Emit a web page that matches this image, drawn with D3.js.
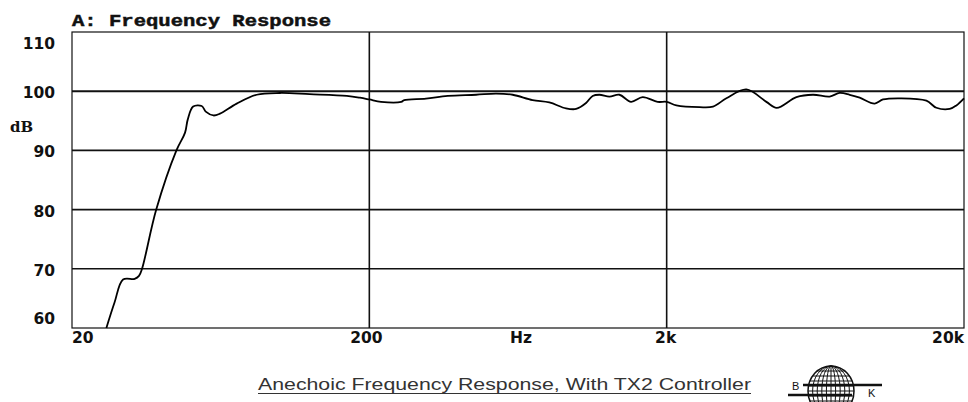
<!DOCTYPE html>
<html><head><meta charset="utf-8">
<script src="https://cdn.jsdelivr.net/npm/d3@7"></script>
<style>
html,body{margin:0;padding:0;background:#fff;}
svg{display:block;}
</style></head>
<body>
<svg id="c" width="968" height="402"></svg>
<script>
// ---- data ----
const freqHz = [26.1, 27.8, 29.7, 32.5, 33.6, 34.4, 38.4, 44.9, 48.0, 49.0, 51.1, 54.6, 56.5, 59.8, 62.9, 71.6, 83.6, 100, 126, 168, 186, 200, 219, 256, 262, 310, 367, 457, 534, 607, 708, 806, 917, 992, 1071, 1127, 1188, 1284, 1387, 1518, 1661, 1865, 2000, 2156, 2582, 2863, 3176, 3708, 4329, 4688, 5462, 6210, 7068, 7636, 8252, 8918, 10016, 10680, 12152, 14944, 16150, 17902, 18856, 20000];
const levelDb = [60.0, 64.3, 68.2, 68.3, 68.8, 70.0, 80.0, 90.0, 93.0, 95.2, 97.4, 97.5, 96.5, 95.9, 96.2, 97.9, 99.4, 99.7, 99.5, 99.2, 98.9, 98.6, 98.2, 98.2, 98.5, 98.75, 99.2, 99.4, 99.6, 99.4, 98.5, 98.1, 97.1, 97.0, 98.0, 99.2, 99.4, 99.1, 99.4, 98.2, 99.0, 98.2, 98.2, 97.6, 97.3, 97.4, 98.8, 100.3, 98.2, 97.2, 99.0, 99.4, 99.1, 99.7, 99.4, 98.9, 97.9, 98.6, 98.8, 98.4, 97.2, 97.0, 97.6, 98.8];
const yTickValues = [110, 100, 90, 80, 70, 60];
const yGridValues = [100, 90, 80, 70];
const xGridValues = [200, 2000];
const xTickValues = [20, 200, 2000, 20000];
const xTickLabels = ["20", "200", "2k", "20k"];
const titleText = "A: Frequency Response";
const yUnit = "dB";
const xUnit = "Hz";
const captionText = "Anechoic Frequency Response, With TX2 Controller";

// ---- layout ----
const L = 72, R = 964, T = 32, B = 328;
const svg = d3.select("#c");
const x = d3.scaleLog().domain([20, 20000]).range([L, R]);
const y = d3.scaleLinear().domain([60, 110]).range([B, T]);

const boldSans = "'DejaVu Sans', sans-serif";

// title
svg.append("text").attr("x", L).attr("y", 26)
  .attr("font-family", "'Liberation Mono', monospace").attr("font-weight", "bold")
  .attr("font-size", 17).attr("textLength", 259).attr("lengthAdjust", "spacingAndGlyphs")
  .attr("fill", "#111").attr("stroke", "#111").attr("stroke-width", 0.5).text(titleText);

// border
svg.append("rect").attr("x", L).attr("y", T).attr("width", R - L).attr("height", B - T)
  .attr("fill", "none").attr("stroke", "#111").attr("stroke-width", 1.2);

// horizontal grid
svg.append("g").selectAll("line").data(yGridValues).join("line")
  .attr("x1", L).attr("x2", R).attr("y1", d => y(d)).attr("y2", d => y(d))
  .attr("stroke", "#111").attr("stroke-width", d => d === 100 ? 2 : 1.6);

// vertical grid
svg.append("g").selectAll("line").data(xGridValues).join("line")
  .attr("y1", T).attr("y2", B).attr("x1", d => x(d)).attr("x2", d => x(d))
  .attr("stroke", "#111").attr("stroke-width", 1.6);

// y labels
const yOff = v => v === 110 ? 11.5 : (v === 60 ? -10 : 1.5);
svg.append("g").selectAll("text").data(yTickValues).join("text")
  .attr("x", 55).attr("y", d => y(d) + yOff(d)).attr("dy", "0.36em")
  .attr("text-anchor", "end").attr("font-family", boldSans).attr("font-weight", "bold")
  .attr("font-size", 15.5).attr("fill", "#111").text(d => d);

svg.append("text").attr("x", 10).attr("y", 132)
  .attr("font-family", "'DejaVu Serif', serif").attr("font-weight", "bold")
  .attr("font-size", 15).attr("fill", "#111").text(yUnit);

// x labels
const anchorFor = i => i === 0 ? "start" : (i === xTickValues.length - 1 ? "end" : "middle");
const xShift = [0, -3, -1, 0];
svg.append("g").selectAll("text").data(xTickValues).join("text")
  .attr("x", (d, i) => x(d) + xShift[i]).attr("y", 343)
  .attr("text-anchor", (d, i) => anchorFor(i))
  .attr("font-family", boldSans).attr("font-weight", "bold")
  .attr("font-size", 15.5).attr("fill", "#111").text((d, i) => xTickLabels[i]);

svg.append("text").attr("x", x(Math.sqrt(200 * 2000)) + 3).attr("y", 343)
  .attr("text-anchor", "middle").attr("font-family", boldSans).attr("font-weight", "bold")
  .attr("font-size", 15.5).attr("fill", "#111").text(xUnit);

// curve
const pts = freqHz.map((f, i) => [f, levelDb[i]]);
const line = d3.line().x(d => x(d[0])).y(d => y(d[1])).curve(d3.curveCatmullRom.alpha(0.5));
svg.append("path").datum(pts).attr("d", line)
  .attr("fill", "none").attr("stroke", "#000").attr("stroke-width", 1.8)
  .attr("stroke-linejoin", "round");

// caption
svg.append("text").attr("x", 258).attr("y", 390)
  .attr("font-family", "'Liberation Sans', Arial, sans-serif")
  .attr("font-size", 17).attr("textLength", 493).attr("lengthAdjust", "spacingAndGlyphs")
  .attr("fill", "#333").text(captionText);
svg.append("line").attr("x1", 258).attr("x2", 751).attr("y1", 393.5).attr("y2", 393.5)
  .attr("stroke", "#333").attr("stroke-width", 1.2);

// logo
const lg = svg.append("g").attr("stroke", "#111").attr("fill", "none").attr("stroke-width", 1);
const cx = 831, cy = 391, rx = 23, ry = 25;
lg.append("ellipse").attr("cx", cx).attr("cy", cy).attr("rx", rx).attr("ry", ry).attr("stroke-width", 1.5);
[0.2, 0.4, 0.6, 0.8].forEach(k => lg.append("ellipse").attr("cx", cx).attr("cy", cy).attr("rx", rx * k).attr("ry", ry));
lg.append("line").attr("x1", cx).attr("x2", cx).attr("y1", cy - ry).attr("y2", cy + ry);
[-0.8, -0.6, -0.4, -0.2, 0, 0.2, 0.4].forEach(k => {
  const yy = cy + ry * k;
  const hw = rx * Math.sqrt(1 - k * k);
  lg.append("line").attr("x1", cx - hw).attr("x2", cx + hw).attr("y1", yy).attr("y2", yy);
});
lg.append("line").attr("x1", 803).attr("x2", 882).attr("y1", 385).attr("y2", 385).attr("stroke-width", 2.5);
lg.append("line").attr("x1", 788).attr("x2", 852).attr("y1", 395).attr("y2", 395).attr("stroke-width", 2.5);
svg.append("text").attr("x", 792).attr("y", 390).attr("font-family", "'Liberation Sans', sans-serif")
  .attr("font-size", 11).attr("fill", "#111").text("B");
svg.append("text").attr("x", 868).attr("y", 397).attr("font-family", "'Liberation Sans', sans-serif")
  .attr("font-size", 11).attr("fill", "#111").text("K");
</script>
</body></html>
